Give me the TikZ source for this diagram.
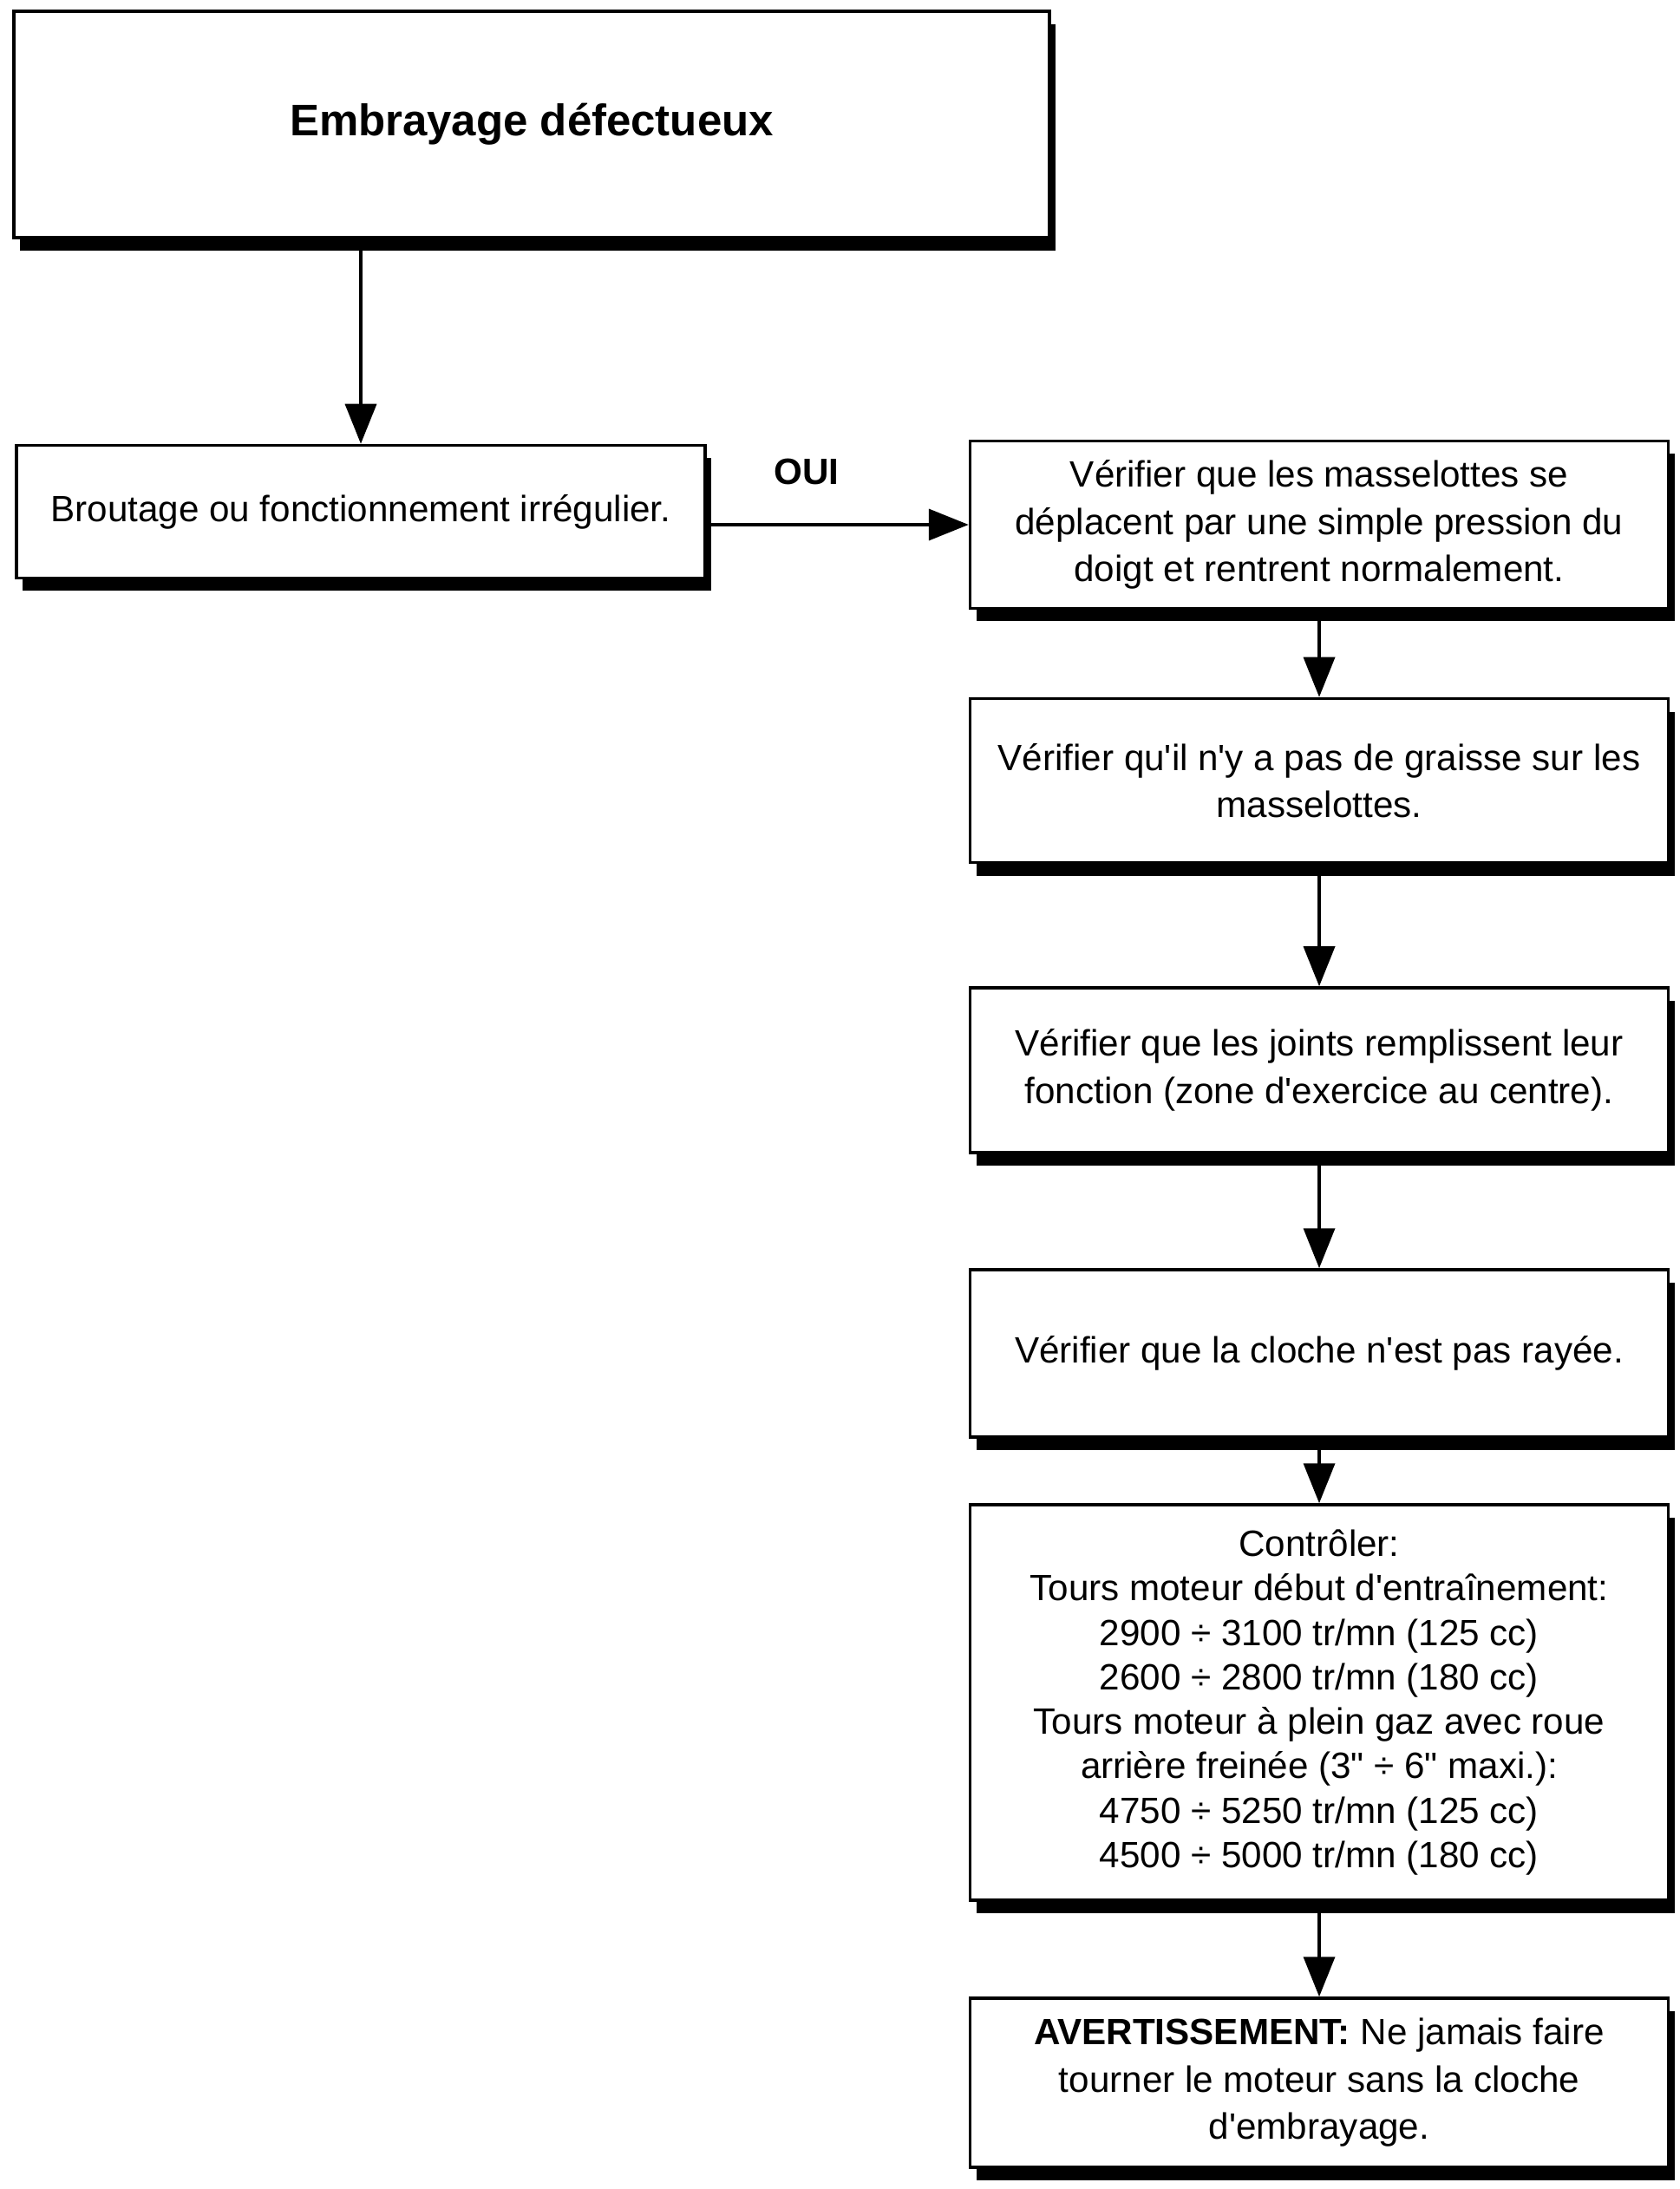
\documentclass[tikz,border=0pt]{standalone}
\usepackage{fontspec}
\setmainfont{Liberation Sans}[Ligatures=TeXOff]
\usetikzlibrary{arrows.meta,shadows}

\begin{document}
\begin{tikzpicture}[x=1cm,y=1cm,
    font=\fontsize{12pt}{15.5pt}\selectfont,
    boite/.style={draw,line width=1pt,fill=white,align=center,
      drop shadow={shadow xshift=0.7mm,shadow yshift=-1.5mm,opacity=1,fill=black}},
    etape/.style={boite,minimum width=8.05cm,minimum height=1.9cm},
    fleche/.style={line width=1pt,-{Triangle[length=4.6mm,width=3.6mm]}}]
  \useasboundingbox (0,0) rectangle (19.36,-25.24);

  % colonne de gauche
  \node[boite,minimum width=11.94cm,minimum height=2.61cm,
    font=\fontsize{14.5pt}{17pt}\selectfont\bfseries] (titre) at (6.13,-1.435)
    {Embrayage défectueux};
  \node[boite,minimum width=7.94cm,minimum height=1.53cm] (brout) at (4.16,-5.9)
    {Broutage ou fonctionnement irrégulier.};

  % colonne de droite
  \node[etape,minimum height=1.93cm] (mass) at (15.21,-6.05)
    {Vérifier que les masselottes se\\déplacent par une simple pression du\\doigt et rentrent normalement.};
  \node[etape,minimum height=1.89cm] (graisse) at (15.21,-9.0)
    {Vérifier qu'il n'y a pas de graisse sur les\\masselottes.};
  \node[etape] (joints) at (15.21,-12.34)
    {Vérifier que les joints remplissent leur\\fonction (zone d'exercice au centre).};
  \node[etape,minimum height=1.93cm] (cloche) at (15.21,-15.605)
    {Vérifier que la cloche n'est pas rayée.};
  \node[etape,minimum height=4.56cm,font=\fontsize{12pt}{14.6pt}\selectfont] (ctrl) at (15.21,-19.63)
    {Contrôler:\\Tours moteur début d'entraînement:\\2900 ÷ 3100 tr/mn (125 cc)\\2600 ÷ 2800 tr/mn (180 cc)\\
     Tours moteur à plein gaz avec roue\\arrière freinée (3" ÷ 6" maxi.):\\4750 ÷ 5250 tr/mn (125 cc)\\4500 ÷ 5000 tr/mn (180 cc)};
  \node[etape,minimum height=1.95cm] (avert) at (15.21,-24.015)
    {\textbf{AVERTISSEMENT:} Ne jamais faire\\tourner le moteur sans la cloche\\d'embrayage.};

  % liaisons
  \draw[fleche] (brout.north |- titre.south) -- (brout.north);
  \draw[fleche] (brout.east |- mass.west) -- (mass.west);
  \node[font=\fontsize{12pt}{14pt}\selectfont\bfseries] (oui) at (9.30,-5.44) {OUI};
  \foreach \a/\b in {mass/graisse,graisse/joints,joints/cloche,cloche/ctrl,ctrl/avert}
    \draw[fleche] (\a) -- (\b);
\end{tikzpicture}
\end{document}
